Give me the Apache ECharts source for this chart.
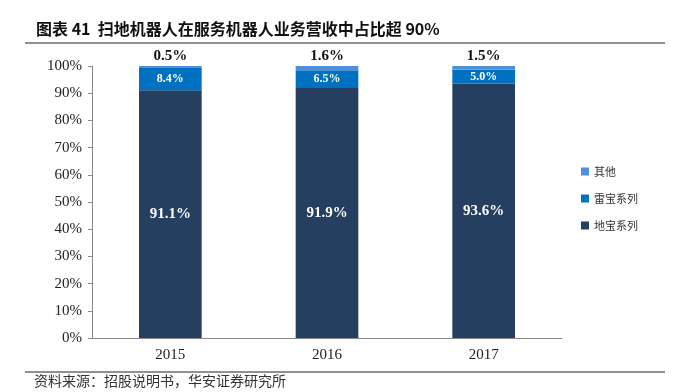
<!DOCTYPE html>
<html>
<head>
<meta charset="utf-8">
<script src="https://cdn.jsdelivr.net/npm/echarts@6/dist/echarts.min.js"></script>
<style>
  html, body { margin: 0; padding: 0; background: #fff; }
  #chart { width: 674px; height: 392px; }
</style>
</head>
<body>
<div id="chart"></div>
<script>
var years = ["2015", "2016", "2017"];
var dibao = [91.1, 91.9, 93.6];   // 地宝系列
var leibao = [8.4, 6.5, 5.0];     // 雷宝系列
var other = [0.5, 1.6, 1.5];      // 其他

var chart = echarts.init(document.getElementById("chart"));

var serif = "'Liberation Serif', 'Times New Roman', serif";
var cjk = "'Noto Sans CJK SC', sans-serif";

var option = {
  animation: false,
  grid: { left: 92, right: 112, top: 66, bottom: 54 },
  graphic: [
    {
      type: "text", left: 36, top: 21,
      style: { text: "图表 41  扫地机器人在服务机器人业务营收中占比超 90%", font: "bold 16px " + cjk, fill: "#111" }
    },
    { type: "line", shape: { x1: 25, y1: 43, x2: 665, y2: 43 }, style: { stroke: "#222", lineWidth: 1 } },
    { type: "line", shape: { x1: 25, y1: 372, x2: 665, y2: 372 }, style: { stroke: "#222", lineWidth: 1 } },
    {
      type: "text", left: 34, top: 374,
      style: { text: "资料来源：招股说明书，华安证券研究所", font: "14px " + cjk, fill: "#333" }
    }
  ],
  legend: {
    orient: "vertical",
    left: 576,
    top: 161,
    itemWidth: 8,
    itemHeight: 8,
    itemGap: 16,
    icon: "rect",
    data: ["其他", "雷宝系列", "地宝系列"],
    textStyle: { fontFamily: cjk, fontSize: 11, color: "#333" }
  },
  xAxis: {
    type: "category",
    data: years,
    axisLine: { lineStyle: { color: "#888" } },
    axisTick: { inside: true, length: 4, lineStyle: { color: "#888" } },
    axisLabel: { fontFamily: serif, fontSize: 15, color: "#222", margin: 10 }
  },
  yAxis: {
    type: "value",
    min: 0,
    max: 100,
    interval: 10,
    splitLine: { show: false },
    axisLine: { show: true, lineStyle: { color: "#888" } },
    axisTick: { show: true, length: 4, lineStyle: { color: "#888" } },
    axisLabel: { formatter: "{value}%", fontFamily: serif, fontSize: 15, color: "#222", margin: 10 }
  },
  series: [
    {
      name: "地宝系列", type: "bar", stack: "a", data: dibao, barWidth: "40%",
      itemStyle: { color: "#243f60" },
      label: { show: true, position: "inside", formatter: "{c}%", color: "#fff", fontFamily: serif, fontWeight: "bold", fontSize: 15 }
    },
    {
      name: "雷宝系列", type: "bar", stack: "a", data: leibao, barWidth: "40%",
      itemStyle: { color: "#0070c0" },
      label: { show: true, position: "inside", formatter: function (p) { return p.value.toFixed(1) + "%"; }, color: "#fff", fontFamily: serif, fontWeight: "bold", fontSize: 12 }
    },
    {
      name: "其他", type: "bar", stack: "a", data: other, barWidth: "40%",
      itemStyle: { color: "#4f8fdc" },
      label: { show: true, position: "top", distance: 2, formatter: "{c}%", color: "#111", fontFamily: serif, fontWeight: "bold", fontSize: 15 }
    }
  ]
};

chart.setOption(option);
</script>
</body>
</html>
